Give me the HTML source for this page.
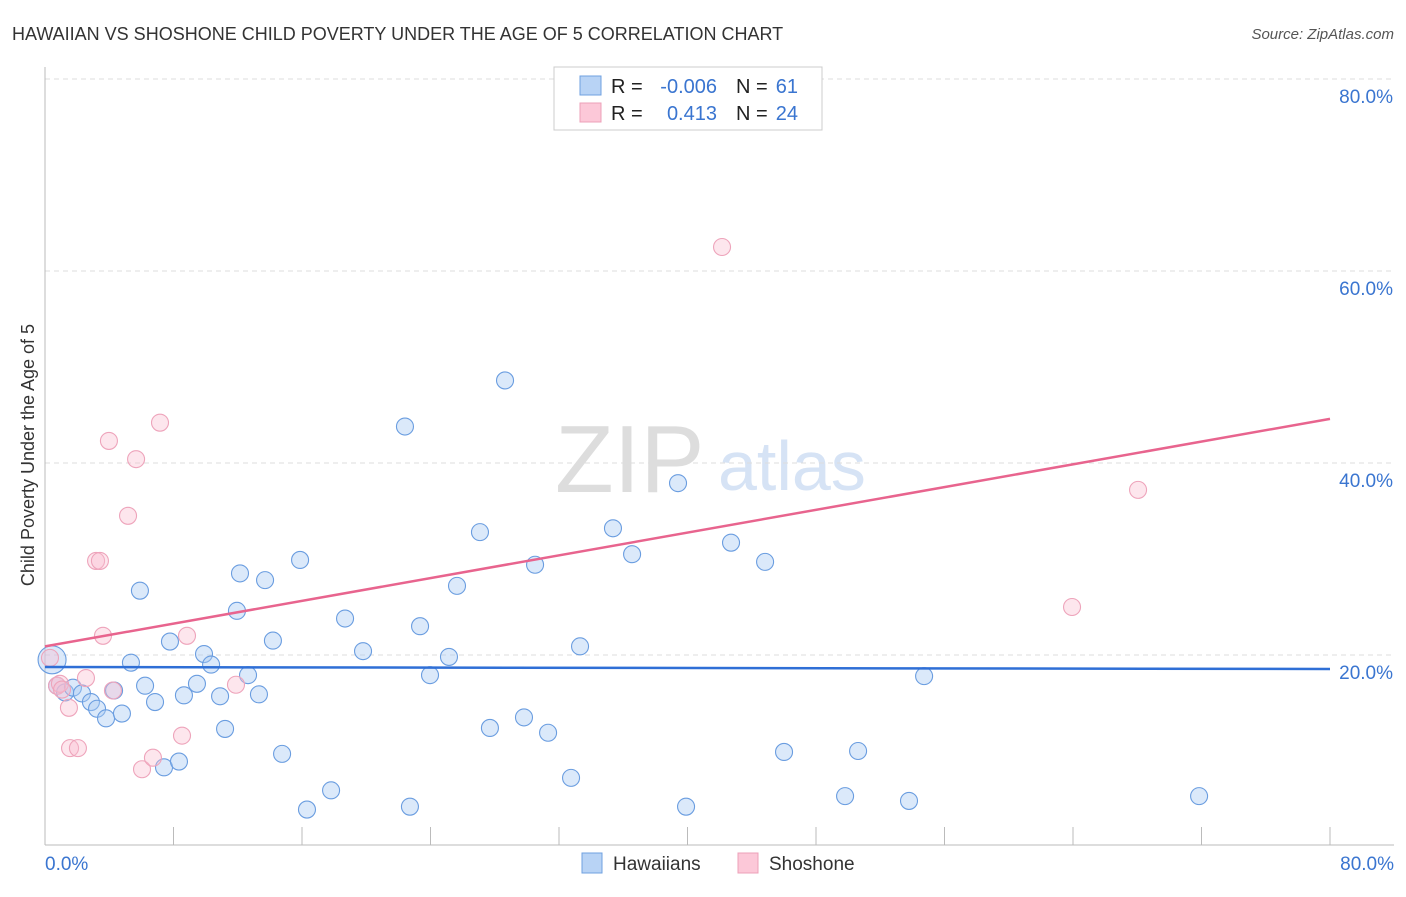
<!DOCTYPE html>
<html><head><meta charset="utf-8"><style>
body{margin:0;background:#fff;font-family:"Liberation Sans",sans-serif}
svg text{font-family:"Liberation Sans",sans-serif}
</style></head><body>
<svg id="c" width="1406" height="892" xmlns="http://www.w3.org/2000/svg">
<text x="12" y="40" font-size="18" fill="#333">HAWAIIAN VS SHOSHONE CHILD POVERTY UNDER THE AGE OF 5 CORRELATION CHART</text>
<text x="1394" y="39" font-size="15" fill="#555" font-style="italic" text-anchor="end">Source: ZipAtlas.com</text>
<text x="34" y="455" font-size="18" fill="#333" text-anchor="middle" transform="rotate(-90 34 455)">Child Poverty Under the Age of 5</text>
<text x="555" y="492" font-size="96" fill="#ddd" font-family="Liberation Serif">ZIP</text>
<text x="718" y="490" font-size="70" fill="#d6e3f5">atlas</text>
<g id="grid"></g><g id="pts"></g><g id="lines"></g>
<g>
<rect x="554" y="67" width="268" height="63" fill="#fff" stroke="#ccc"/>
<rect x="580" y="76" width="21" height="19" fill="#b8d3f5" stroke="#6fa0e0"/>
<rect x="580" y="103" width="21" height="19" fill="#fcc8d8" stroke="#eda0b8"/>
<text x="611" y="93" font-size="20" fill="#222">R =</text>
<text x="717" y="93" font-size="20" fill="#3a75d0" text-anchor="end">-0.006</text>
<text x="736" y="93" font-size="20" fill="#222">N =</text>
<text x="798" y="93" font-size="20" fill="#3a75d0" text-anchor="end">61</text>
<text x="611" y="120" font-size="20" fill="#222">R =</text>
<text x="717" y="120" font-size="20" fill="#3a75d0" text-anchor="end">0.413</text>
<text x="736" y="120" font-size="20" fill="#222">N =</text>
<text x="798" y="120" font-size="20" fill="#3a75d0" text-anchor="end">24</text>
</g>
<g>
<rect x="582" y="853" width="20" height="20" fill="#b8d3f5" stroke="#6fa0e0"/>
<text x="613" y="870" font-size="19" fill="#333">Hawaiians</text>
<rect x="738" y="853" width="20" height="20" fill="#fcc8d8" stroke="#eda0b8"/>
<text x="769" y="870" font-size="19" fill="#333">Shoshone</text>
</g>
</svg>
<script>
const yTicks=[20,40,60,80];
const xTickLabels=["0.0%","80.0%"];
const blueX=[0.44,0.75,1.25,1.74,2.30,2.86,3.24,3.80,4.30,4.79,5.35,5.91,6.23,6.85,7.41,7.78,8.34,8.65,9.46,9.90,10.34,10.90,11.21,11.95,12.14,12.64,13.32,13.70,14.19,14.76,15.88,16.31,17.81,18.68,19.80,22.41,22.72,23.35,23.97,25.15,25.65,27.08,27.70,28.64,29.82,30.51,31.32,32.75,33.31,35.36,36.55,39.41,39.91,42.71,44.83,46.01,49.81,50.62,53.79,54.73,71.85];
const blueY=[19.5,16.8,16.1,16.6,16.0,15.1,14.4,13.4,16.3,13.9,19.2,26.7,16.8,15.1,8.3,21.4,8.9,15.8,17.0,20.1,19.0,15.7,12.3,24.6,28.5,17.9,15.9,27.8,21.5,9.7,29.9,3.9,5.9,23.8,20.4,43.8,4.2,23.0,17.9,19.8,27.2,32.8,12.4,48.6,13.5,29.4,11.9,7.2,20.9,33.2,30.5,37.9,4.2,31.7,29.7,9.9,5.3,10.0,4.8,17.8,5.3];
const pinkX=[0.31,0.75,0.93,1.06,1.56,2.05,1.49,2.55,3.18,3.42,3.61,3.98,4.23,5.17,5.67,6.04,6.72,7.16,8.53,8.84,11.89,42.15,63.94,68.05];
const pinkY=[19.7,16.8,17.0,16.4,10.3,10.3,14.5,17.6,29.8,29.8,22.0,42.3,16.3,34.5,40.4,8.1,9.3,44.2,11.6,22.0,16.9,62.5,25.0,37.2];
const blueTrend=[18.75,18.54];
const pinkTrend=[20.9,44.6];
const NS="http://www.w3.org/2000/svg";
const X=v=>45+v*1285/80, Y=v=>847-v*9.6;
function mk(t,a,p){const e=document.createElementNS(NS,t);for(const k in a)e.setAttribute(k,a[k]);p.appendChild(e);return e;}
const grid=document.getElementById('grid');
for(const t of yTicks){
 const l=mk('line',{x1:45,x2:1394,y1:Y(t),y2:Y(t),stroke:'#ddd','stroke-dasharray':'5,4'},grid);
 
 
 const tx=mk('text',{x:1393,y:Y(t)+24,'font-size':19,fill:'#3a75d0','text-anchor':'end'},grid);tx.textContent=t.toFixed(1)+'%';
 
 
}
const ax=mk('line',{x1:45,x2:1394,y1:845,y2:845,stroke:'#bbb'},grid);


const ay=mk('line',{x1:45,x2:45,y1:67,y2:845,stroke:'#bbb'},grid);


for(let i=0;i<=10;i++){const t=mk('line',{x1:X(i*8),x2:X(i*8),y1:827,y2:845,stroke:'#bbb'},grid);
 
 }
const xl0=mk('text',{x:45,y:870,'font-size':19,fill:'#3a75d0'},grid);xl0.textContent=xTickLabels[0];


const xl1=mk('text',{x:1394,y:870,'font-size':19,fill:'#3a75d0','text-anchor':'end'},grid);xl1.textContent=xTickLabels[1];


const pts=document.getElementById('pts');
blueX.forEach((x,i)=>{const c=mk('circle',{cx:X(x),cy:Y(blueY[i]),r:i==0?14:8.5,fill:'rgba(170,202,242,0.42)',stroke:'#6a9de0','stroke-width':1.1},pts);
 
 });
pinkX.forEach((x,i)=>{const c=mk('circle',{cx:X(x),cy:Y(pinkY[i]),r:8.5,fill:'rgba(250,190,208,0.38)',stroke:'#eea4bb','stroke-width':1.1},pts);
 
 });
const lines=document.getElementById('lines');
const bl=mk('line',{x1:X(0),x2:X(80),y1:Y(blueTrend[0]),y2:Y(blueTrend[1]),stroke:'#2f6fd6','stroke-width':2.5},lines);


const pl=mk('line',{x1:X(0),x2:X(80),y1:Y(pinkTrend[0]),y2:Y(pinkTrend[1]),stroke:'#e8648e','stroke-width':2.5},lines);


</script>
</body></html>
